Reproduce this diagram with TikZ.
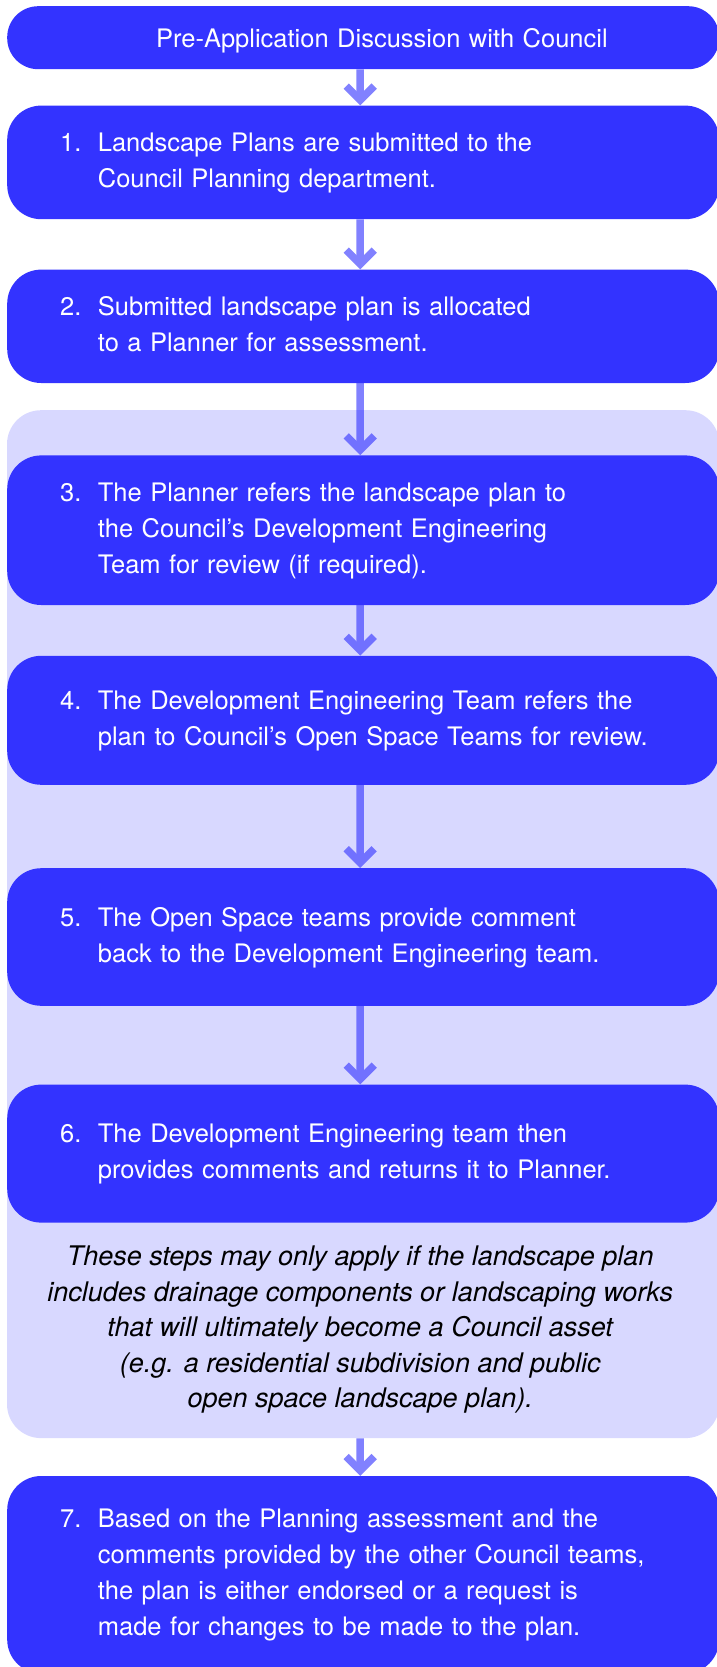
\documentclass[tikz,border=0pt]{standalone}
\usepackage{fontspec}
\setmainfont{TeX Gyre Heros}
\usetikzlibrary{positioning,fit,backgrounds,arrows.meta}

\definecolor{stepblue}{RGB}{51,51,255}
\definecolor{panelblue}{RGB}{216,216,255}

\newcommand{\steplines}[2]{\begin{tabular}{@{}p{37.7pt}@{}l@{}}#1 & #2\end{tabular}}

\begin{document}
\begin{tikzpicture}[
    stage/.style={fill=stepblue, rounded corners=34pt, text=white, minimum width=712pt,
      text width=606pt, inner xsep=53pt, inner ysep=0pt, align=left,
      font=\fontsize{25.5}{36}\selectfont},
    panel/.style={fill=panelblue, rounded corners=34pt, inner sep=0pt},
    note/.style={inner sep=0pt, align=center, font=\fontsize{27}{35.6}\selectfont\itshape},
    flow/.style={line width=7.5pt, draw=stepblue, -{Straight Barb[sharp,length=14pt,width=28pt]}}
  ]
  \useasboundingbox (0pt,0pt) rectangle (717pt,-1667pt);

  \node[stage, rounded corners=31pt, minimum height=63pt, text height=18.7pt, text depth=0pt,
    anchor=north west] (pre) at (7pt,-6pt) {\hspace*{96pt}Pre-Application Discussion with Council};
  \node[stage, minimum height=113.6pt, below=36pt of pre] (submit)
    {\steplines{1.}{Landscape Plans are submitted to the\\ & Council Planning department.}};
  \node[stage, minimum height=113.4pt, below=50pt of submit] (allocate)
    {\steplines{2.}{Submitted landscape plan is allocated\\ & to a Planner for assessment.}};
  \node[stage, minimum height=149.6pt, below=72pt of allocate] (refer)
    {\steplines{3.}{The Planner refers the landscape plan to\\ & the Council’s Development Engineering\\ & Team for review (if required).}};
  \node[stage, minimum height=129pt, below=50.4pt of refer] (review)
    {\steplines{4.}{The Development Engineering Team refers the\\ & plan to Council’s Open Space Teams for review.}};
  \node[stage, minimum height=137.6pt, below=83pt of review] (comment)
    {\steplines{5.}{The Open Space teams provide comment\\ & back to the Development Engineering team.}};
  \node[stage, minimum height=138pt, below=78.4pt of comment] (returned)
    {\steplines{6.}{The Development Engineering team then\\ & provides comments and returns it to Planner.}};
  \node[note, below=17.6pt of returned, xshift=-3pt] (note)
    {\begin{tabular}{@{}c@{}}These steps may only apply if the landscape plan\\
      includes drainage components or landscaping works\\
      that will ultimately become a Council asset\\
      (e.g. a residential subdivision and public\\
      open space landscape plan).\end{tabular}};

  % shaded block behind steps 3 to 6
  \coordinate[above=45pt of refer] (paneltop);
  \coordinate[below=19.3pt of note] (panelbot);
  \begin{scope}[on background layer]
    \node[panel, fit=(paneltop) (panelbot) (refer)] (panel) {};
  \end{scope}

  \node[stage, minimum height=197.5pt, below=37.5pt of panel] (decide)
    {\steplines{7.}{Based on the Planning assessment and the\\ & comments provided by the other Council teams,\\ & the plan is either endorsed or a request is\\ & made for changes to be made to the plan.}};

  \begin{scope}[transparency group, opacity=0.62]
    \draw[flow] ([xshift=-3pt]pre.south) -- ([xshift=-3pt]submit.north);
    \draw[flow] ([xshift=-3pt]submit.south) -- ([xshift=-3pt]allocate.north);
    \draw[flow] ([xshift=-3pt]allocate.south) -- ([xshift=-3pt]refer.north);
    \draw[flow] ([xshift=-3pt]refer.south) -- ([xshift=-3pt]review.north);
    \draw[flow] ([xshift=-3pt]review.south) -- ([xshift=-3pt]comment.north);
    \draw[flow] ([xshift=-3pt]comment.south) -- ([xshift=-3pt]returned.north);
    \draw[flow] ([xshift=-3pt]panel.south) -- ([xshift=-3pt]decide.north);
  \end{scope}
\end{tikzpicture}
\end{document}
